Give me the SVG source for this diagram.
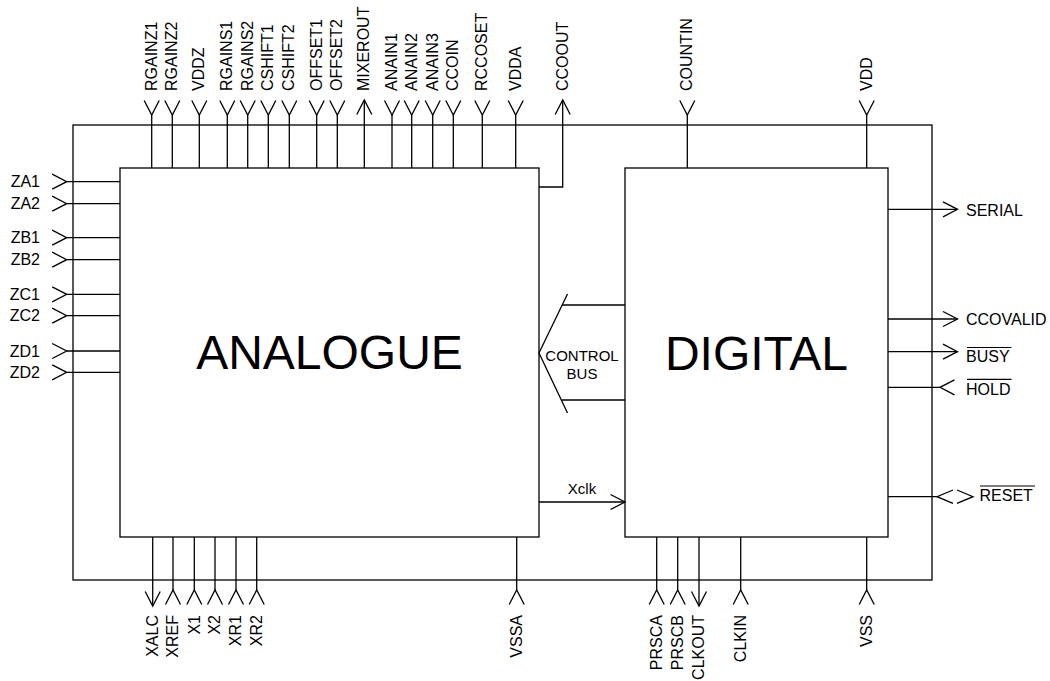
<svg xmlns="http://www.w3.org/2000/svg" width="1050" height="681" viewBox="0 0 1050 681">
<style>
.box{fill:none;stroke:#000;stroke-width:1.3}
.w{fill:none;stroke:#000;stroke-width:1.3}
.in{marker-start:url(#chev)}
.out{marker-end:url(#chev)}
.t{font-family:"Liberation Sans",Arial,sans-serif;font-size:16px;fill:#000}
.big{font-family:"Liberation Sans",Arial,sans-serif;font-size:48px;fill:#000;text-anchor:middle}
.mid{font-family:"Liberation Sans",Arial,sans-serif;font-size:15px;fill:#000;text-anchor:middle}
.ol{stroke:#000;stroke-width:1.2}
</style>
<defs>
<marker id="chev" markerUnits="userSpaceOnUse" orient="auto" refX="0" refY="0" markerWidth="20" markerHeight="20" overflow="visible">
<path d="M -14.5 -7.5 L 0 0 L -14.5 7.5" fill="none" stroke="#000" stroke-width="1.3"/>
</marker>
</defs>
<rect fill="#fff" x="0" y="0" width="1050" height="681"/>
<g id="chip"><rect class="box" x="73" y="125" width="859" height="455"/></g>
<g id="analogue"><rect class="box" x="120" y="168" width="419" height="369"/><text class="big" x="329.5" y="369">ANALOGUE</text></g>
<g id="digital"><rect class="box" x="625" y="168" width="263" height="369"/><text class="big" x="756.5" y="370">DIGITAL</text></g>
<g id="connectors">
<!-- top analogue -->
<path class="w in" d="M151.7 115V168"/>
<path class="w in" d="M172.3 115V168"/>
<path class="w in" d="M199.3 115V168"/>
<path class="w in" d="M227.3 115V168"/>
<path class="w in" d="M247.7 115V168"/>
<path class="w in" d="M268.3 115V168"/>
<path class="w in" d="M289.3 115V168"/>
<path class="w in" d="M316.7 115V168"/>
<path class="w in" d="M337.3 115V168"/>
<path class="w out" d="M364.3 168V100"/>
<path class="w in" d="M392 115V168"/>
<path class="w in" d="M411.7 115V168"/>
<path class="w in" d="M432.7 115V168"/>
<path class="w in" d="M453.3 115V168"/>
<path class="w in" d="M482.3 115V168"/>
<path class="w in" d="M515.7 115V168"/>
<path class="w out" d="M539 187H562.7V100"/>
<!-- top digital -->
<path class="w in" d="M687.3 115V168"/>
<path class="w in" d="M866.7 115V168"/>
<!-- left -->
<path class="w in" d="M66.7 181.7H120"/>
<path class="w in" d="M66.7 203.7H120"/>
<path class="w in" d="M66.7 237.7H120"/>
<path class="w in" d="M66.7 259.7H120"/>
<path class="w in" d="M66.7 294.3H120"/>
<path class="w in" d="M66.7 315.7H120"/>
<path class="w in" d="M66.7 351H120"/>
<path class="w in" d="M66.7 372.3H120"/>
<!-- bottom -->
<path class="w out" d="M152.7 537V606"/>
<path class="w in" d="M173 590V537"/>
<path class="w in" d="M194.3 590V537"/>
<path class="w in" d="M215 590V537"/>
<path class="w in" d="M236 590V537"/>
<path class="w in" d="M256.7 590V537"/>
<path class="w in" d="M516.7 590V537"/>
<path class="w in" d="M656.7 590V537"/>
<path class="w in" d="M677.7 590V537"/>
<path class="w out" d="M699 537V606"/>
<path class="w in" d="M740.7 590V537"/>
<path class="w in" d="M866.7 590V537"/>
<!-- right -->
<path class="w out" d="M888 209.3H957.5"/>
<path class="w out" d="M888 319H957.5"/>
<path class="w out" d="M888 351.7H957.5"/>
<path class="w in" d="M940 387.3H888"/>
<path class="w" d="M888 496.7H937"/>
<path class="w" d="M953 490L937 496.7L953 503.4M957 490L973 496.7L957 503.4"/>
<!-- control bus -->
<path class="w" d="M567.5 294L539 353L567.5 413"/>
<path class="w" d="M562 305H625M561.5 400H625"/>
<!-- xclk -->
<path class="w out" d="M539 502H625"/>
</g>
<g id="bus-labels">
<text class="mid" x="582" y="361">CONTROL</text>
<text class="mid" x="582" y="379">BUS</text>
<text class="mid" x="582" y="494">Xclk</text>
</g>
<g id="pin-labels" class="t">
<g text-anchor="start">
<text transform="translate(156.7 91) rotate(-90)">RGAINZ1</text>
<text transform="translate(177.3 91) rotate(-90)">RGAINZ2</text>
<text transform="translate(204.3 91) rotate(-90)">VDDZ</text>
<text transform="translate(232.3 91) rotate(-90)">RGAINS1</text>
<text transform="translate(252.7 91) rotate(-90)">RGAINS2</text>
<text transform="translate(273.3 91) rotate(-90)">CSHIFT1</text>
<text transform="translate(294.3 91) rotate(-90)">CSHIFT2</text>
<text transform="translate(321.7 91) rotate(-90)">OFFSET1</text>
<text transform="translate(342.3 91) rotate(-90)">OFFSET2</text>
<text transform="translate(369.3 91) rotate(-90)">MIXEROUT</text>
<text transform="translate(397 91) rotate(-90)">ANAIN1</text>
<text transform="translate(416.7 91) rotate(-90)">ANAIN2</text>
<text transform="translate(437.7 91) rotate(-90)">ANAIN3</text>
<text transform="translate(458.3 91) rotate(-90)">CCOIN</text>
<text transform="translate(487.3 91) rotate(-90)">RCCOSET</text>
<text transform="translate(520.7 91) rotate(-90)">VDDA</text>
<text transform="translate(567.7 91) rotate(-90)">CCOOUT</text>
<text transform="translate(692.3 91) rotate(-90)">COUNTIN</text>
<text transform="translate(871.7 91) rotate(-90)">VDD</text>
</g>
<g text-anchor="end">
<text transform="translate(158 615) rotate(-90)">XALC</text>
<text transform="translate(178.3 615) rotate(-90)">XREF</text>
<text transform="translate(199.6 615) rotate(-90)">X1</text>
<text transform="translate(220.3 615) rotate(-90)">X2</text>
<text transform="translate(241.3 615) rotate(-90)">XR1</text>
<text transform="translate(262 615) rotate(-90)">XR2</text>
<text transform="translate(522 615) rotate(-90)">VSSA</text>
<text transform="translate(662 615) rotate(-90)">PRSCA</text>
<text transform="translate(683 615) rotate(-90)">PRSCB</text>
<text transform="translate(704.3 615) rotate(-90)">CLKOUT</text>
<text transform="translate(746 615) rotate(-90)">CLKIN</text>
<text transform="translate(872 615) rotate(-90)">VSS</text>
<text x="40" y="187.2">ZA1</text>
<text x="40" y="209.2">ZA2</text>
<text x="40" y="243.2">ZB1</text>
<text x="40" y="265.2">ZB2</text>
<text x="40" y="299.8">ZC1</text>
<text x="40" y="321.2">ZC2</text>
<text x="40" y="356.5">ZD1</text>
<text x="40" y="377.8">ZD2</text>
</g>
<g text-anchor="start">
<text x="966" y="215.5">SERIAL</text>
<text x="966" y="325">CCOVALID</text>
<text x="966" y="362">BUSY</text>
<text x="966" y="395">HOLD</text>
<text x="979.5" y="501">RESET</text>
</g>
<line class="ol" x1="967" y1="347.5" x2="1011.5" y2="347.5"/>
<line class="ol" x1="967" y1="379.3" x2="1011.5" y2="379.3"/>
<line class="ol" x1="980" y1="486" x2="1035" y2="486"/>
</g>
</svg>
